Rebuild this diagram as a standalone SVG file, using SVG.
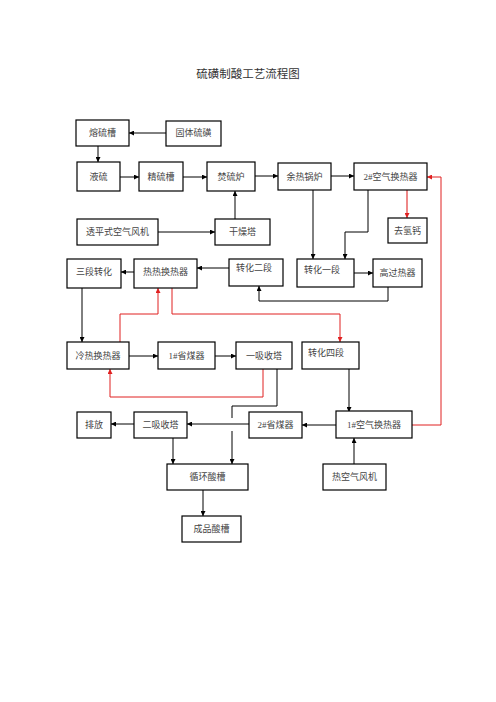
<svg xmlns="http://www.w3.org/2000/svg" width="496" height="702" viewBox="0 0 496 702">
<style>
.b{fill:#fff;stroke:#000;stroke-width:1.2}
.t{font-family:"Liberation Serif","Noto Sans CJK SC",serif;font-size:9px;fill:#444;text-anchor:middle;dominant-baseline:central}
.tl{font-family:"Liberation Serif","Noto Sans CJK SC",serif;font-size:9px;fill:#444;dominant-baseline:central}
.k{fill:none;stroke:#000;stroke-width:1}
.r{fill:none;stroke:#e02020;stroke-width:1}
.rl{fill:none;stroke:#e86060;stroke-width:1.5}
</style>
<defs>
<marker id="ak" viewBox="0 0 10 10" refX="10" refY="5" markerWidth="5" markerHeight="5" markerUnits="userSpaceOnUse" orient="auto"><path d="M0,0L10,5L0,10z" fill="#000"/></marker>
<marker id="ar" viewBox="0 0 10 10" refX="10" refY="5" markerWidth="5" markerHeight="5" markerUnits="userSpaceOnUse" orient="auto"><path d="M0,0L10,5L0,10z" fill="#e02020"/></marker>
</defs>
<rect width="496" height="702" fill="#fff"/>
<text x="248" y="74" style="font-family:'Liberation Serif','Noto Sans CJK SC',serif;font-size:11.5px;fill:#333;text-anchor:middle;dominant-baseline:central">硫磺制酸工艺流程图</text>

<g id="connectors">
<path class="k" d="M166,133H129" marker-end="url(#ak)"/>
<path class="k" d="M98,146V162" marker-end="url(#ak)"/>
<path class="k" d="M120,177H139" marker-end="url(#ak)"/>
<path class="k" d="M183,177H207" marker-end="url(#ak)"/>
<path class="k" d="M255,176H278" marker-end="url(#ak)"/>
<path class="k" d="M331,176H354" marker-end="url(#ak)"/>
<path class="k" d="M158,232H215" marker-end="url(#ak)"/>
<path class="k" d="M235,219V191" marker-end="url(#ak)"/>
<path class="k" d="M313,190V259" marker-end="url(#ak)"/>
<path class="k" d="M368,190V232H345V259" marker-end="url(#ak)"/>
<path class="rl" d="M407,190V218" marker-end="url(#ar)"/>
<path class="r" d="M412,425H441V177H427" marker-end="url(#ar)"/>
<path class="k" d="M229,268H197" marker-end="url(#ak)"/>
<path class="k" d="M134,272H121" marker-end="url(#ak)"/>
<path class="k" d="M354,273H373" marker-end="url(#ak)"/>
<path class="k" d="M388,287V301H259V286" marker-end="url(#ak)"/>
<path class="k" d="M82,288V342" marker-end="url(#ak)"/>
<path class="r" d="M120,342V314H158V288" marker-end="url(#ar)"/>
<path class="r" d="M172,288V314H340V342" marker-end="url(#ar)"/>
<path class="k" d="M129,356H158" marker-end="url(#ak)"/>
<path class="k" d="M215,356H236" marker-end="url(#ak)"/>
<path class="r" d="M263,369V397H110V369" marker-end="url(#ar)"/>
<path class="k" d="M277,369V406H232V418"/>
<path class="k" d="M232,431V464" marker-end="url(#ak)"/>
<path class="k" d="M349,369V412" marker-end="url(#ak)"/>
<path class="k" d="M336,425H302" marker-end="url(#ak)"/>
<path class="k" d="M249,424H187" marker-end="url(#ak)"/>
<path class="k" d="M134,424H111" marker-end="url(#ak)"/>
<path class="k" d="M173,438V464" marker-end="url(#ak)"/>
<path class="k" d="M354,464V438" marker-end="url(#ak)"/>
<path class="k" d="M203,490V516" marker-end="url(#ak)"/>
</g>

<g id="n1"><rect class="b" x="76" y="120" width="53" height="26"/><text class="t" x="102.5" y="133">熔硫槽</text></g>
<g id="n2"><rect class="b" x="166" y="121" width="55" height="25"/><text class="t" x="193.5" y="133">固体硫磺</text></g>
<g id="n3"><rect class="b" x="77" y="162" width="43" height="29"/><text class="t" x="98.5" y="176.5">液硫</text></g>
<g id="n4"><rect class="b" x="139" y="162" width="44" height="29"/><text class="t" x="161" y="176.5">精硫槽</text></g>
<g id="n5"><rect class="b" x="207" y="162" width="48" height="29"/><text class="t" x="231" y="176.5">焚硫炉</text></g>
<g id="n6"><rect class="b" x="278" y="163" width="53" height="27"/><text class="t" x="304.5" y="176.5">余热锅炉</text></g>
<g id="n7"><rect class="b" x="354" y="163" width="73" height="27"/><text class="t" x="390.5" y="176.5">2#空气换热器</text></g>
<g id="n8"><rect class="b" x="77" y="219" width="81" height="26"/><text class="t" x="117.5" y="232">透平式空气风机</text></g>
<g id="n9"><rect class="b" x="215" y="219" width="55" height="26"/><text class="t" x="242.5" y="232">干燥塔</text></g>
<g id="n10"><rect class="b" x="388" y="218" width="39" height="25"/><text class="t" x="407.5" y="231">去氢钙</text></g>
<g id="n11"><rect class="b" x="67" y="259" width="54" height="29"/><text class="t" x="94" y="272">三段转化</text></g>
<g id="n12"><rect class="b" x="134" y="259" width="63" height="29"/><text class="t" x="165.5" y="272">热热换热器</text></g>
<g id="n13"><rect class="b" x="229" y="259" width="54" height="27"/><text class="tl" x="236" y="268">转化二段</text></g>
<g id="n14"><rect class="b" x="297" y="259" width="57" height="28"/><text class="tl" x="304" y="270">转化一段</text></g>
<g id="n15"><rect class="b" x="373" y="259" width="49" height="28"/><text class="t" x="397.5" y="273">高过热器</text></g>
<g id="n16"><rect class="b" x="67" y="342" width="62" height="27"/><text class="t" x="98" y="356">冷热换热器</text></g>
<g id="n17"><rect class="b" x="158" y="342" width="57" height="27"/><text class="t" x="186.5" y="356">1#省煤器</text></g>
<g id="n18"><rect class="b" x="236" y="342" width="56" height="27"/><text class="t" x="264" y="356">一吸收塔</text></g>
<g id="n19"><rect class="b" x="302" y="342" width="57" height="27"/><text class="tl" x="308" y="353">转化四段</text></g>
<g id="n20"><rect class="b" x="77" y="412" width="34" height="26"/><text class="t" x="94" y="425">排放</text></g>
<g id="n21"><rect class="b" x="134" y="412" width="53" height="26"/><text class="t" x="160.5" y="425">二吸收塔</text></g>
<g id="n22"><rect class="b" x="249" y="412" width="53" height="26"/><text class="t" x="275.5" y="425">2#省煤器</text></g>
<g id="n23"><rect class="b" x="336" y="411" width="76" height="27"/><text class="t" x="374" y="425">1#空气换热器</text></g>
<g id="n24"><rect class="b" x="167" y="464" width="81" height="26"/><text class="t" x="207.5" y="477">循环酸槽</text></g>
<g id="n25"><rect class="b" x="323" y="464" width="63" height="26"/><text class="t" x="354.5" y="477">热空气风机</text></g>
<g id="n26"><rect class="b" x="182" y="516" width="59" height="26"/><text class="t" x="211.5" y="529">成品酸槽</text></g>
</svg>
